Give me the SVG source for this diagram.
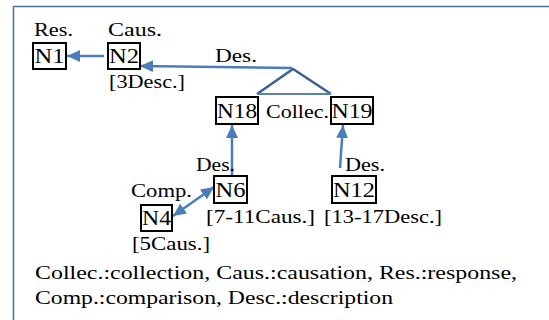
<svg xmlns="http://www.w3.org/2000/svg" width="549" height="320" viewBox="0 0 549 320">
<style>
text{font-family:"Liberation Serif","Times New Roman",serif;font-size:18.5px;fill:#000}
.n{font-size:20px;text-anchor:middle}
.lg{font-size:19.5px}
.box{fill:none;stroke:#000;stroke-width:2}
.c{stroke:#4A7EBB;stroke-width:2.5;fill:none}
.tri{stroke:#3C6090;stroke-width:2.5;fill:none;stroke-linejoin:miter}
</style>
<defs>
<marker id="ah" markerUnits="userSpaceOnUse" markerWidth="14" markerHeight="12" refX="13" refY="6" orient="auto-start-reverse">
<path d="M0,0 L13,6 L0,12 z" fill="#4A7EBB"/>
</marker>
</defs>
<rect width="549" height="320" fill="#fff"/>
<path d="M13.5,320 V6.5 H549" fill="none" stroke="#4A6FA5" stroke-width="1.5"/>
<g id="connectors">
<line class="c" x1="104" y1="56" x2="67" y2="56" marker-end="url(#ah)"/>
<line class="c" x1="292" y1="68" x2="140" y2="66" marker-end="url(#ah)"/>
<path class="tri" d="M257,94 L293,69 L331,94"/>
<line x1="257" y1="94" x2="331" y2="94" stroke="#5A7FB0" stroke-width="2"/>
<line class="c" x1="232" y1="177" x2="232" y2="125" marker-end="url(#ah)"/>
<line class="c" x1="340" y1="168" x2="343" y2="125" marker-end="url(#ah)"/>
<line class="c" x1="173" y1="216" x2="214" y2="187" marker-start="url(#ah)" marker-end="url(#ah)"/>
<text x="215" y="62" textLength="42" lengthAdjust="spacingAndGlyphs">Des.</text>
<text x="196" y="171" textLength="39" lengthAdjust="spacingAndGlyphs">Des.</text>
<text x="345" y="171" textLength="40" lengthAdjust="spacingAndGlyphs">Des.</text>
<text x="131" y="197" textLength="61" lengthAdjust="spacingAndGlyphs">Comp.</text>
<text x="266" y="118" textLength="63" lengthAdjust="spacingAndGlyphs">Collec.</text>
</g>
<g id="N1"><rect class="box" x="33" y="43" width="33" height="26"/><text class="n" x="49.5" y="63" textLength="30" lengthAdjust="spacingAndGlyphs">N1</text><text x="34" y="36" textLength="39" lengthAdjust="spacingAndGlyphs">Res.</text></g>
<g id="N2"><rect class="box" x="108" y="43" width="32" height="26"/><text class="n" x="124" y="63" textLength="30" lengthAdjust="spacingAndGlyphs">N2</text><text x="108" y="36" textLength="54" lengthAdjust="spacingAndGlyphs">Caus.</text><text x="109" y="88" textLength="76" lengthAdjust="spacingAndGlyphs">[3Desc.]</text></g>
<g id="N18"><rect class="box" x="216" y="97" width="42" height="27"/><text class="n" x="237" y="118" textLength="40" lengthAdjust="spacingAndGlyphs">N18</text></g>
<g id="N19"><rect class="box" x="331" y="97" width="42" height="27"/><text class="n" x="352" y="118" textLength="41" lengthAdjust="spacingAndGlyphs">N19</text></g>
<g id="N6"><rect class="box" x="214" y="176" width="33" height="27"/><text class="n" x="230.5" y="197" textLength="30" lengthAdjust="spacingAndGlyphs">N6</text><text x="206" y="223" textLength="109" lengthAdjust="spacingAndGlyphs">[7-11Caus.]</text></g>
<g id="N12"><rect class="box" x="332" y="176" width="44" height="27"/><text class="n" x="354" y="197" textLength="42" lengthAdjust="spacingAndGlyphs">N12</text><text x="324" y="223" textLength="118" lengthAdjust="spacingAndGlyphs">[13-17Desc.]</text></g>
<g id="N4"><rect class="box" x="141" y="205" width="31" height="26"/><text class="n" x="156.5" y="225" textLength="29" lengthAdjust="spacingAndGlyphs">N4</text><text x="132" y="250" textLength="78" lengthAdjust="spacingAndGlyphs">[5Caus.]</text></g>
<g id="legend">
<text class="lg" x="35" y="279" textLength="482" lengthAdjust="spacingAndGlyphs">Collec.:collection, Caus.:causation, Res.:response,</text>
<text class="lg" x="35" y="304" textLength="358" lengthAdjust="spacingAndGlyphs">Comp.:comparison, Desc.:description</text>
</g>
</svg>
